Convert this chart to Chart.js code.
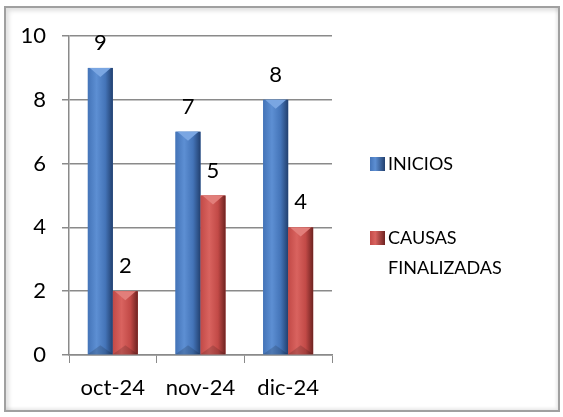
<!DOCTYPE html>
<html>
<head>
<meta charset="utf-8">
<script src="https://cdn.jsdelivr.net/npm/chart.js@4.4.1/dist/chart.umd.min.js"></script>
<style>
    body { margin: 0; background: #fff; }
    .wrap { position: relative; width: 563px; height: 417px; overflow: hidden; }
    .frame {
        position: absolute; left: 4px; top: 6px; width: 552px; height: 402px;
        border: 2px solid #a0a0a0;
        box-shadow: inset 3px 3px 4px rgba(0,0,0,0.12), inset -2px -2px 3px rgba(0,0,0,0.08);
    }
    canvas { position: absolute; left: 0; top: 0; }
    .legend { position: absolute; left: 370px; top: 0; font-family: Lato, sans-serif; font-size: 18px; color: #000; }
    .legend .row { position: absolute; white-space: nowrap; }
    .legend .sw { position: absolute; left: 0; width: 15px; height: 14px; }
    .legend .txt { position: absolute; left: 18px; line-height: 30px; }
</style>
</head>
<body>
<div class="wrap">
    <div class="frame"></div>
    <canvas id="chart" width="563" height="417"></canvas>
    <div class="legend">
        <div class="row" style="top:148px">
            <div class="sw" style="top:9px;background:linear-gradient(90deg,#4474b8,#5d8fd3 35%,#22406f)"></div>
            <div class="txt" style="top:0">INICIOS</div>
        </div>
        <div class="row" style="top:222px">
            <div class="sw" style="top:9px;background:linear-gradient(90deg,#c24a47,#d9635f 35%,#6e2321)"></div>
            <div class="txt" style="top:0">CAUSAS<br>FINALIZADAS</div>
        </div>
    </div>
</div>
<script>
const categories = ["oct-24", "nov-24", "dic-24"];
const inicios = [9, 7, 8];
const causasFinalizadas = [2, 5, 4];
const yTicks = [0, 2, 4, 6, 8, 10];

const palettes = [
    { light: "#5d8fd3", mid: "#4474b8", dark: "#22406f", top: "#7aa6e2" },
    { light: "#d9635f", mid: "#c24a47", dark: "#6e2321", top: "#e27e7a" }
];

// bevelled look on top of each bar
const bevelBars = {
    id: "bevelBars",
    afterDatasetsDraw(chart) {
        const ctx = chart.ctx;
        chart.data.datasets.forEach((ds, i) => {
            const p = palettes[i];
            chart.getDatasetMeta(i).data.forEach((bar) => {
                const { x, y, base, width } = bar.getProps(["x", "y", "base", "width"], true);
                const l = x - width / 2, r = x + width / 2;
                const g = ctx.createLinearGradient(l, 0, r, 0);
                g.addColorStop(0, p.mid);
                g.addColorStop(0.35, p.light);
                g.addColorStop(0.7, p.mid);
                g.addColorStop(1, p.dark);
                ctx.save();
                ctx.fillStyle = g;
                ctx.fillRect(l, y, width, base - y);
                // top chevron
                const d = Math.min(9, (base - y) / 2);
                ctx.beginPath();
                ctx.moveTo(l + 2, y);
                ctx.lineTo(r - 2, y);
                ctx.lineTo(x, y + d);
                ctx.closePath();
                ctx.fillStyle = p.top;
                ctx.fill();
                // bottom bevel
                ctx.beginPath();
                ctx.moveTo(l, base);
                ctx.lineTo(r, base);
                ctx.lineTo(x, base - d);
                ctx.closePath();
                ctx.fillStyle = "rgba(0,0,0,0.15)";
                ctx.fill();
                ctx.restore();
            });
        });
    }
};

const valueLabels = {
    id: "valueLabels",
    afterDatasetsDraw(chart) {
        const ctx = chart.ctx;
        ctx.save();
        ctx.font = "22px Lato, sans-serif";
        ctx.fillStyle = "#000";
        ctx.textAlign = "center";
        ctx.textBaseline = "middle";
        chart.data.datasets.forEach((ds, i) => {
            chart.getDatasetMeta(i).data.forEach((bar, j) => {
                ctx.fillText(String(ds.data[j]), bar.x, bar.y - 25);
            });
        });
        ctx.restore();
    }
};

new Chart(document.getElementById("chart"), {
    type: "bar",
    data: {
        labels: categories,
        datasets: [
            { label: "INICIOS", data: inicios, backgroundColor: palettes[0].mid },
            { label: "CAUSAS FINALIZADAS", data: causasFinalizadas, backgroundColor: palettes[1].mid }
        ]
    },
    options: {
        responsive: false,
        animation: false,
        categoryPercentage: 0.57,
        barPercentage: 1,
        layout: { padding: { left: 0, top: 36, right: 231, bottom: 0 } },
        plugins: { legend: { display: false }, tooltip: { enabled: false } },
        scales: {
            x: {
                grid: { drawOnChartArea: false, drawTicks: true, tickLength: 8, color: "#8a8a8a", offset: true },
                border: { color: "#8a8a8a", width: 1.5 },
                ticks: { color: "#000", font: { family: "Lato, sans-serif", size: 22 }, padding: 12 },
                afterFit(scale) { scale.height = 62; }
            },
            y: {
                min: 0,
                max: 10,
                afterBuildTicks(scale) { scale.ticks = yTicks.map(v => ({ value: v })); },
                grid: { color: "#8a8a8a", lineWidth: 1.5, tickLength: 7 },
                border: { color: "#8a8a8a", width: 1.5 },
                ticks: { color: "#000", font: { family: "Lato, sans-serif", size: 22 }, padding: 16 },
                afterFit(scale) { scale.width = 69; }
            }
        }
    },
    plugins: [bevelBars, valueLabels]
});
</script>
</body>
</html>
